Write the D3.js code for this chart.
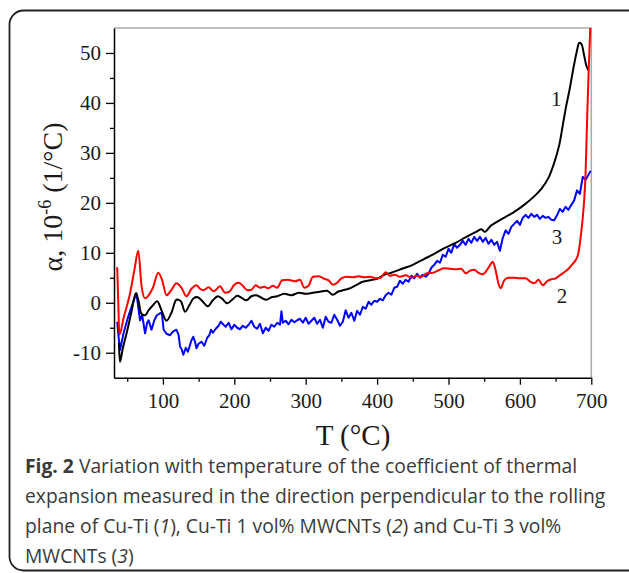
<!DOCTYPE html>
<html lang="en">
<head>
    <meta charset="UTF-8">
    <title>Fig. 2 CTE vs temperature</title>
    <script src="https://d3js.org/d3.v7.min.js"></script>
    <style>
        body { margin: 0; background: #fff; }
        svg text { fill: #1a1a1a; }
    </style>
</head>
<body>
    <svg id="chart" width="629" height="573"></svg>
    <script>
        // curve 1: Cu-Ti (black)
        const tempCuTi = [38.5, 40, 44, 50, 56, 62, 66, 70, 75, 80, 86, 92, 98, 105, 112, 119, 125, 131, 137, 143, 149, 156, 163, 170, 177, 183, 190, 197, 204, 210, 217, 224, 231, 238, 245, 252, 260, 270, 280, 290, 300, 310, 320, 330, 338, 345, 352, 360, 370, 380, 390, 400, 410, 420, 435, 450, 465, 480, 495, 510, 525, 540, 546, 551, 560, 575, 590, 605, 620, 630, 640, 648, 655, 660, 665, 670, 675, 680, 683, 686, 690, 693, 696];
        const alphaCuTi = [-8, -11.8, -9, -5.6, -1.8, 1.9, 0.3, -2.2, -2.5, -1.5, -0.5, 0.3, -1.5, -3.6, -2, 0.6, 0.3, -1.8, -0.5, 0.9, 1.1, 0.2, -0.7, 0.5, 1.3, 0.8, -0.1, 0.6, 1.4, 1.0, 0.5, 1.3, 1.5, 1.0, 0.6, 1.1, 1.3, 1.8, 1.5, 2.0, 1.8, 2.0, 2.2, 2.4, 1.6, 2.2, 2.5, 2.8, 3.5, 4.2, 4.5, 4.8, 5.6, 6.0, 6.8, 7.6, 8.7, 9.8, 11.0, 12.0, 13.2, 14.3, 14.7, 14.2, 15.5, 16.8, 18.0, 19.5, 21.3, 22.8, 25.0, 28.0, 31.5, 35.5, 39.5, 43.0, 47.0, 50.5, 52.0, 51.8, 49.5, 47.5, 46.5];

        // curve 2: Cu-Ti 1 vol% MWCNTs (red)
        const tempCNT1 = [36, 37.5, 39, 45, 54, 60, 65.5, 70, 75, 80, 86, 93.5, 99, 105, 112, 119, 126, 133, 140, 147, 152, 157, 164, 171, 180, 187, 193, 200, 206, 212, 218, 224, 230, 236, 242, 248, 254, 260, 267, 275, 285, 292, 298, 304, 310, 318, 326, 332, 338, 344, 350, 358, 366, 374, 382, 390, 398, 405, 412, 418, 425, 432, 440, 448, 455, 462, 470, 478, 486, 494, 502, 510, 518, 524, 530, 536, 542, 548, 554, 558, 562, 566, 570, 573, 578, 584, 592, 600, 608, 614, 620, 626, 632, 638, 644, 650, 656, 662, 668, 674, 678, 682, 685, 688, 690, 692, 694, 696, 698.5];
        const alphaCNT1 = [7.1, 0, -6.4, -3, 1.9, 6.5, 10.4, 3.5, 0.9, 1.5, 3, 6.0, 4.5, 1.5, 2.6, 3.9, 3.0, 1.3, 2.8, 3.5, 2.8, 2.5, 3.1, 2.3, 3.3, 2.0, 2.2, 3.6, 4.0, 3.4, 2.5, 2.6, 3.5, 3.0, 3.2, 2.9, 3.4, 3.0, 4.5, 4.6, 4.3, 4.6, 3.0, 3.4, 5.2, 5.3, 4.8, 4.5, 3.6, 4.0, 4.9, 5.2, 5.1, 5.3, 5.1, 5.2, 4.9, 5.0, 6.1, 5.4, 5.6, 5.2, 5.5, 5.0, 5.4, 5.2, 5.9, 6.0, 6.5, 6.9, 6.8, 6.7, 6.8, 5.9, 6.4, 6.6, 6.0, 5.7, 6.6, 7.5, 8.2, 6.5, 3.8, 2.9, 4.5, 5.0, 5.0, 4.9, 4.9, 4.3, 3.9, 4.6, 3.5, 4.3, 4.7, 4.9, 5.5, 6.1, 6.8, 7.8, 8.5, 10.0, 13.0, 17.0, 20.5, 26, 36, 45, 55];

        // curve 3: Cu-Ti 3 vol% MWCNTs (blue)
        const tempCNT3 = [36, 38, 40, 45, 52, 58, 63, 66, 68, 71, 75, 78, 80, 84, 88, 91.5, 95, 98.5, 101, 105, 110, 114, 119, 122, 124, 126, 128.6, 132, 135, 138, 140, 142.6, 145, 147, 150, 154, 158, 162, 165, 167.4, 170, 174, 178, 181, 185, 188, 192, 196, 200, 204, 208, 212, 216, 220, 224, 228, 232, 236, 240, 244, 248, 252, 256, 260, 264, 266, 268, 272, 276, 280, 284, 288, 292, 296, 300, 304, 308, 312, 316, 320, 324, 328, 332, 336, 340, 344, 348, 352, 356, 360, 364, 368, 372, 376, 380, 384, 388, 392, 396, 400, 404, 408, 412, 416, 420, 424, 428, 432, 436, 440, 444, 448, 452, 456, 460, 464, 468, 472, 476, 480, 484, 488, 492, 496, 500, 504, 508, 512, 516, 520, 524, 528, 532, 536, 540, 544, 548, 552, 556, 560, 564, 568, 572, 576, 580, 584, 588, 592, 596, 600, 604, 608, 612, 616, 620, 624, 628, 632, 636, 640, 644, 648, 652, 656, 660, 664, 668, 672, 676, 680, 684, 688, 692, 696, 699];
        const alphaCNT3 = [-3.8, -7, -9.4, -6, -2.5, 0, 1.9, -1.5, -3.5, -2.5, -6.1, -4, -3.5, -5.4, -3.5, -2.5, -2.2, -2.0, -5.4, -6.2, -6.5, -5.8, -5.4, -6.5, -8.8, -9.2, -10.4, -9.0, -9.8, -8.4, -7.5, -6.8, -7.8, -9.1, -8.2, -7.8, -8.6, -7.0, -6.5, -5.4, -6.0, -5.2, -4.6, -3.8, -4.4, -4.8, -4.0, -5.3, -4.4, -5.0, -5.3, -4.6, -5.0, -4.4, -3.6, -4.8, -5.2, -4.2, -6.1, -5.0, -5.6, -4.4, -4.8, -4.0, -4.4, -1.7, -4.0, -3.6, -4.3, -3.4, -3.9, -3.5, -3.2, -4.0, -3.0, -4.2, -3.6, -3.0, -4.2, -3.4, -5.0, -2.8, -3.8, -4.0, -2.4, -3.4, -4.6, -3.8, -1.5, -3.0, -2.0, -3.6, -1.6, -2.4, -0.8, -1.2, 0.2, -0.4, 0.4, 0.2, 0.8, 0.5, 1.5, 2.0, 1.6, 3.0, 3.2, 4.4, 3.8, 4.6, 4.2, 5.4, 4.9, 5.8, 5.0, 5.6, 5.2, 5.8, 7.0, 7.6, 8.4, 8.0, 9.6, 9.2, 10.8, 10.0, 11.8, 11.0, 11.6, 12.4, 11.6, 12.8, 12.0, 13.2, 12.4, 13.2, 12.2, 13.0, 11.8, 12.6, 11.6, 12.2, 10.4, 13.0, 14.5, 13.8, 15.2, 15.8, 16.4, 15.6, 17.0, 17.6, 17.0, 17.8, 17.2, 17.6, 16.8, 17.4, 17.0, 17.2, 16.6, 16.5, 17.5, 18.8, 18.2, 19.2, 18.6, 19.6, 20.5, 22.5, 21.8, 25.2, 24.6, 25.6, 26.4];

        // curve numbers placed in data coordinates
        const curveLabels = ["1", "3", "2"];
        const curveLabelT = [651, 652, 659];
        const curveLabelA = [40.8, 13.3, 1.5];

        const xMajor = [100, 200, 300, 400, 500, 600, 700];
        const xMinor = [50, 150, 250, 350, 450, 550, 650];
        const yMajor = [-10, 0, 10, 20, 30, 40, 50];
        const yMinor = [-5, 5, 15, 25, 35, 45];

        const caption = [
            [["Fig. 2", "b"], [" Variation with temperature of the coefficient of thermal", ""]],
            [["expansion measured in the direction perpendicular to the rolling", ""]],
            [["plane of Cu-Ti (", ""], ["1", "i"], ["), Cu-Ti 1 vol% MWCNTs (", ""], ["2", "i"], [") and Cu-Ti 3 vol%", ""]],
            [["MWCNTs (", ""], ["3", "i"], [")", ""]]
        ];

        let svg = d3.select("#chart");
        const serif = "'Liberation Serif', 'Times New Roman', serif";

        // outer rounded frame
        svg.append("rect")
            .attr("x", 9.5).attr("y", 10.5)
            .attr("width", 640).attr("height", 560)
            .attr("rx", 14)
            .attr("fill", "none")
            .attr("stroke", "#222")
            .attr("stroke-width", 1.8);

        let x = d3.scaleLinear().domain([31.5, 700]).range([114, 591.3]);
        let y = d3.scaleLinear().domain([-15, 55]).range([377.7, 28]);

        // grey top / right frame
        svg.append("path")
            .attr("d", `M${x(31.5)},${y(55)}H${x(700)}V${y(-15)}`)
            .attr("fill", "none")
            .attr("stroke", "#aaa")
            .attr("stroke-width", 1.5);

        // minor ticks
        svg.append("g")
            .attr("transform", `translate(0,${y(-15)})`)
            .call(d3.axisBottom(x).tickValues(xMinor).tickSize(4).tickFormat("").tickSizeOuter(0))
            .call(g => g.select(".domain").remove())
            .selectAll("line").attr("stroke-width", 1.3);
        svg.append("g")
            .attr("transform", `translate(${x(31.5)},0)`)
            .call(d3.axisLeft(y).tickValues(yMinor).tickSize(4).tickFormat("").tickSizeOuter(0))
            .call(g => g.select(".domain").remove())
            .selectAll("line").attr("stroke-width", 1.3);

        // major axes (plain hyphen for negatives, as in the figure)
        const fmt = d => String(d);
        let xAxis = svg.append("g")
            .attr("transform", `translate(0,${y(-15)})`)
            .call(d3.axisBottom(x).tickValues(xMajor).tickFormat(fmt).tickSize(7).tickPadding(8).tickSizeOuter(0));
        let yAxis = svg.append("g")
            .attr("transform", `translate(${x(31.5)},0)`)
            .call(d3.axisLeft(y).tickValues(yMajor).tickFormat(fmt).tickSize(8).tickPadding(5).tickSizeOuter(0));

        [xAxis, yAxis].forEach(g => {
            g.select(".domain").attr("stroke-width", 1.5);
            g.selectAll("line").attr("stroke-width", 1.3);
            g.selectAll("text")
                .attr("font-family", serif)
                .attr("font-size", 21)
                .attr("fill", "#1a1a1a");
        });

        // curves
        const series = [
            { t: tempCuTi, a: alphaCuTi, color: "#000000", curve: d3.curveCatmullRom },
            { t: tempCNT1, a: alphaCNT1, color: "#ff0000", curve: d3.curveMonotoneX },
            { t: tempCNT3, a: alphaCNT3, color: "#0000ff", curve: d3.curveLinear }
        ];
        // draw blue, black, red order
        [2, 0, 1].forEach(i => {
            let s = series[i];
            let line = d3.line()
                .x((d, k) => x(s.t[k]))
                .y((d, k) => y(s.a[k]))
                .curve(s.curve);
            svg.append("path")
                .attr("d", line(s.t))
                .attr("fill", "none")
                .attr("stroke", s.color)
                .attr("stroke-width", 2)
                .attr("stroke-linejoin", "round");
        });

        // curve numbers
        svg.selectAll(".num")
            .data(curveLabels)
            .enter().append("text")
            .attr("x", (d, i) => x(curveLabelT[i]))
            .attr("y", (d, i) => y(curveLabelA[i]))
            .attr("dy", "0.35em")
            .attr("text-anchor", "middle")
            .attr("font-family", serif)
            .attr("font-size", 21)
            .text(d => d);

        // axis titles
        svg.append("text")
            .attr("x", 353).attr("y", 445)
            .attr("text-anchor", "middle")
            .attr("font-family", serif)
            .attr("font-size", 29)
            .text("T (°C)");

        let yTitle = svg.append("text")
            .attr("transform", "translate(62,197) rotate(-90)")
            .attr("text-anchor", "middle")
            .attr("font-family", serif)
            .attr("font-size", 28);
        yTitle.append("tspan").text("α, 10");
        yTitle.append("tspan").attr("dy", -11).attr("font-size", 18).text("-6");
        yTitle.append("tspan").attr("dy", 11).text(" (1/°C)");

        // caption
        let cap = svg.append("text")
            .attr("font-family", "'Open Sans', sans-serif")
            .attr("font-size", 19.3);
        caption.forEach((row, r) => {
            row.forEach((part, j) => {
                let ts = cap.append("tspan").text(part[0]);
                if (j === 0) ts.attr("x", 25).attr("y", 473 + r * 30);
                if (part[1] === "b") ts.attr("font-weight", 700);
                if (part[1] === "i") ts.attr("font-style", "italic");
            });
        });
        cap.selectAll("tspan").attr("fill", "#3a3a3a");
    </script>
</body>
</html>
